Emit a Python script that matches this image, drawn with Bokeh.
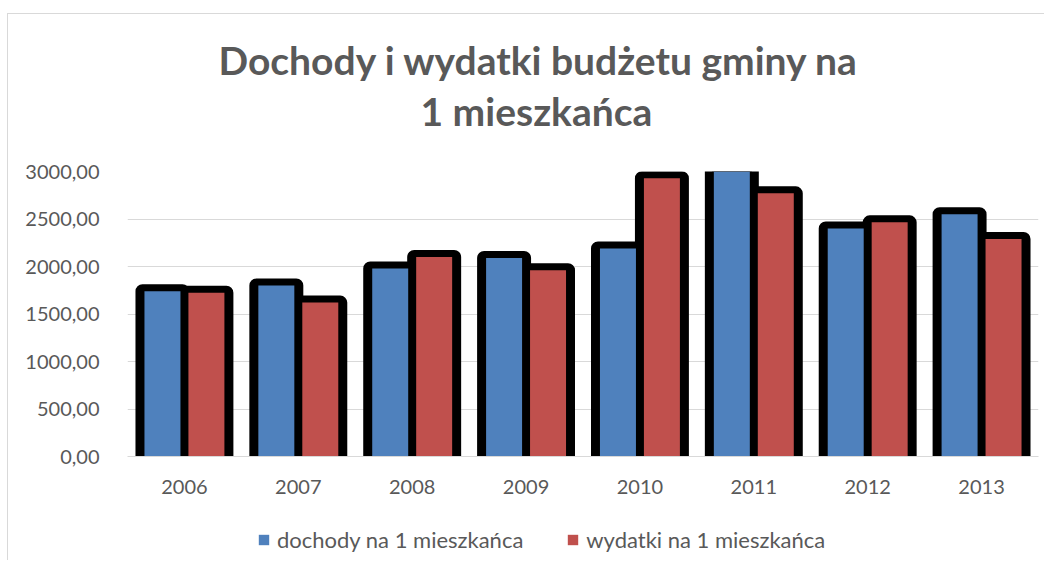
from bokeh.plotting import figure
from bokeh.layouts import column
from bokeh.models import (FactorRange, Range1d, FixedTicker, Title, Legend,
                          LegendItem, ColumnDataSource)
from bokeh.transform import dodge
from bokeh.embed import file_html
from bokeh.resources import INLINE

years = ["2006", "2007", "2008", "2009", "2010", "2011", "2012", "2013"]
dochody = [1740, 1800, 1980, 2090, 2190, 3050, 2400, 2550]
wydatki = [1725, 1620, 2100, 1960, 2930, 2770, 2465, 2290]
y_ticks = [0, 500, 1000, 1500, 2000, 2500, 3000]
y_tick_labels = ["0,00", "500,00", "1000,00", "1500,00", "2000,00", "2500,00", "3000,00"]
title_lines = ["Dochody i wydatki budżetu gminy na", "1 mieszkańca"]
series_names = ["dochody na 1 mieszkańca", "wydatki na 1 mieszkańca"]

FONT = "Lato"
TXT = "#595959"
BLUE = "#4F81BD"
RED = "#C0504D"
W = 1036

src = ColumnDataSource(dict(year=years, d=dochody, w=wydatki))

p = figure(x_range=FactorRange(*years), y_range=Range1d(0, 3000),
           width=W, height=506, output_backend="svg", toolbar_location=None,
           min_border_left=119, min_border_right=6, min_border_top=157,
           min_border_bottom=64, title=None)
p.outline_line_color = None
p.background_fill_color = "white"
p.border_fill_color = "white"

OFF = 0.193
BW = 0.316
SW = BW + 0.035

# dark shadows behind the bars
for col, off in (("d", -OFF), ("w", OFF)):
    p.vbar(x=dodge("year", off, range=p.x_range), top=col, width=SW, source=src,
           fill_color="black", line_color="black", line_width=14, line_join="round")

p.vbar(x=dodge("year", -OFF, range=p.x_range), top="d", width=BW, source=src,
       fill_color=BLUE, line_color=None)
p.vbar(x=dodge("year", OFF, range=p.x_range), top="w", width=BW, source=src,
       fill_color=RED, line_color=None)

# axes
p.xgrid.grid_line_color = None
p.ygrid.grid_line_color = "#d9d9d9"
p.ygrid.grid_line_width = 1
p.yaxis.ticker = FixedTicker(ticks=y_ticks)
p.yaxis.major_label_overrides = {t: l for t, l in zip(y_ticks, y_tick_labels)}
p.yaxis.axis_line_color = None
p.yaxis.major_tick_line_color = None
p.yaxis.minor_tick_line_color = None
p.yaxis.major_label_standoff = 22
p.xaxis.axis_line_color = "#d9d9d9"
p.xaxis.major_tick_line_color = None
p.xaxis.minor_tick_line_color = None
p.xaxis.major_label_standoff = 17
for ax in (p.xaxis, p.yaxis):
    ax.major_label_text_font = FONT
    ax.major_label_text_font_size = "20px"
    ax.major_label_text_color = TXT

# title (spacer, line 2, line 1 — stacked upward from the frame)
p.add_layout(Title(text=" ", text_font_size="32px", standoff=0), "above")
p.add_layout(Title(text=title_lines[1], align="left", offset=293, standoff=0,
                   text_font=FONT, text_font_style="bold", text_font_size="39px",
                   text_color=TXT), "above")
p.add_layout(Title(text=title_lines[0], align="left", offset=91, standoff=6,
                   text_font=FONT, text_font_style="bold", text_font_size="39px",
                   text_color=TXT), "above")

# legend strip below the chart (frame aligned with the chart's frame)
q = figure(x_range=Range1d(0, 1), y_range=Range1d(0, 1), width=W, height=40,
           output_backend="svg", toolbar_location=None, x_axis_type=None,
           y_axis_type=None, min_border=0, title=None)
q.grid.visible = False
q.outline_line_color = None
q.background_fill_color = "white"
q.border_fill_color = "white"
# hidden renderers that carry the series styles for the legend swatches
lb = q.vbar(x="d", top="d", width=1, source=src, fill_color=BLUE, line_color=None,
            visible=False)
lr = q.vbar(x="w", top="w", width=1, source=src, fill_color=RED, line_color=None,
            visible=False)
legend = Legend(items=[LegendItem(label=series_names[0], renderers=[lb]),
                       LegendItem(label=series_names[1], renderers=[lr])],
                orientation="horizontal", location=(130, 7),
                glyph_width=13, glyph_height=13, label_standoff=7, spacing=43,
                padding=0, margin=0, border_line_color=None,
                background_fill_alpha=0,
                label_text_font=FONT, label_text_font_size="22px",
                label_text_color=TXT)
q.add_layout(legend, "center")

layout = column(p, q, spacing=0)
layout.styles = {"margin-top": "13px", "margin-left": "7px",
                 "border-top": "1px solid #d9d9d9", "border-left": "1px solid #d9d9d9"}

open("out.html", "w").write(file_html(layout, INLINE))
